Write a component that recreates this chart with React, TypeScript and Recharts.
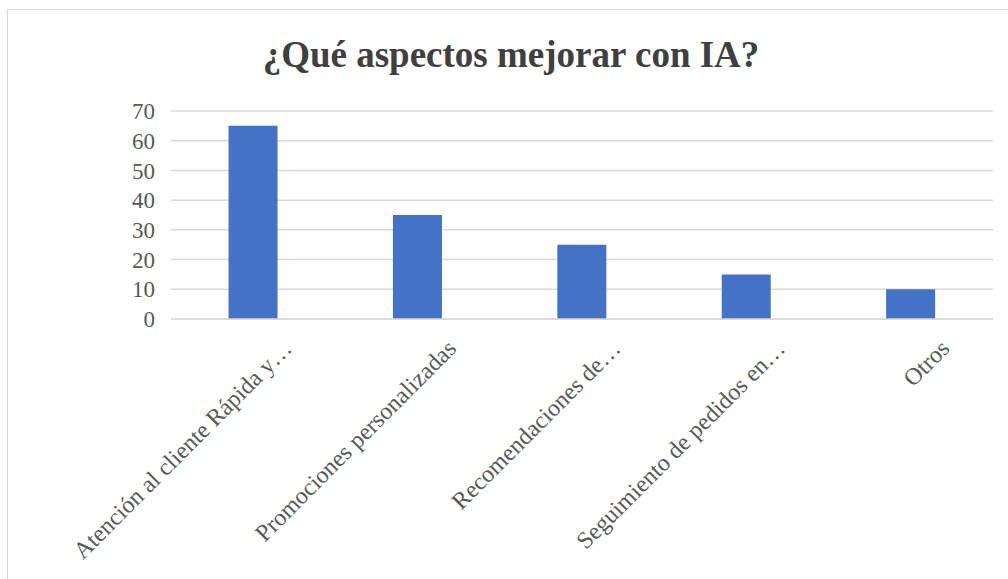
import { Bar, BarChart, CartesianGrid, XAxis, YAxis } from "recharts"

const categories = [
  "Atención al cliente Rápida y…",
  "Promociones personalizadas",
  "Recomendaciones de…",
  "Seguimiento de pedidos en…",
  "Otros",
]

const values = [65, 35, 25, 15, 10]

const yTicks = [0, 10, 20, 30, 40, 50, 60, 70]

const data = categories.map((name, i) => ({ name, value: values[i] }))

const serif = "'Liberation Serif', 'Times New Roman', serif"

function CategoryTick(props: any) {
  const { x, y, payload } = props
  return (
    <g transform={`translate(${x + 40},${y + 23})`}>
      <text
        textAnchor="end"
        transform="rotate(-45)"
        fontFamily={serif}
        fontSize={24}
        fill="#595959"
      >
        {payload.value}
      </text>
    </g>
  )
}

export default function App() {
  return (
    <div
      style={{
        position: "fixed",
        left: 0,
        top: 0,
        width: 1008,
        height: 579,
        overflow: "hidden",
        background: "#fff",
      }}
    >
      <div
        style={{
          position: "absolute",
          left: 7,
          top: 9,
          width: 1100,
          height: 700,
          border: "1px solid #d9d9d9",
        }}
      />
      <div
        style={{
          position: "absolute",
          left: 0,
          top: 33,
          width: 1022,
          textAlign: "center",
          fontFamily: serif,
          fontWeight: "bold",
          fontSize: 37,
          color: "#404040",
          lineHeight: "44px",
        }}
      >
        ¿Qué aspectos mejorar con IA?
      </div>
      <div style={{ position: "absolute", left: 0, top: 0 }}>
        <BarChart
          width={1008}
          height={579}
          data={data}
          margin={{ top: 111, right: 15, left: 0, bottom: 0 }}
          barCategoryGap="35%"
        >
          <CartesianGrid vertical={false} stroke="#d9d9d9" strokeWidth={1.5} />
          <XAxis
            dataKey="name"
            interval={0}
            axisLine={{ stroke: "#d9d9d9", strokeWidth: 1.5 }}
            tickLine={false}
            tick={<CategoryTick />}
            height={260}
          />
          <YAxis
            domain={[0, 70]}
            ticks={yTicks}
            interval={0}
            width={171}
            axisLine={false}
            tickLine={false}
            tickMargin={10}
            tick={{ fontFamily: serif, fontSize: 23, fill: "#595959" }}
          />
          <Bar dataKey="value" fill="#4472c4" isAnimationActive={false} />
        </BarChart>
      </div>
    </div>
  )
}
